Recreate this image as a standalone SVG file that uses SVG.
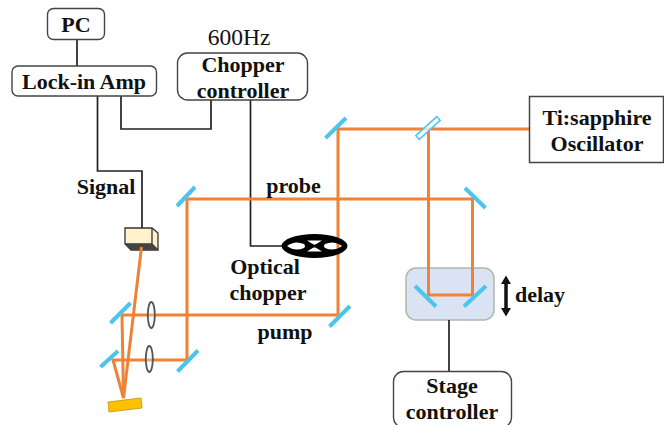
<svg xmlns="http://www.w3.org/2000/svg" width="664" height="425" viewBox="0 0 664 425">
<style>
text{font-family:"Liberation Serif",serif;font-weight:bold;font-size:22px;fill:#111;text-anchor:middle}
.box{fill:#fff;stroke:#444;stroke-width:1.4}
.w{fill:none;stroke:#222;stroke-width:1.7}
.b{fill:none;stroke:#ef8236;stroke-width:3}
.m{stroke:#4cc4ef;stroke-width:4;stroke-linecap:butt}
.l{fill:#eef1f5;fill-opacity:.35;stroke:#555;stroke-width:1.8}
</style>
<rect width="664" height="425" fill="#fff"/>
<g id="stage"><rect x="406" y="268" width="88" height="52" rx="10" fill="#d9e3f3" stroke="#adb9a8" stroke-width="1.5"/></g>
<g id="connectors">
<path class="w" d="M77 39V66M97.500 96V171H142V228M121 96V129H211V100M250.500 100V246H285M449 320V371"/>
<path class="b" d="M530 129H338V315H122L123.500 398L113 360H187V199H472.500V295H428.500V129"/>
<path d="M506 280V312" stroke="#111" stroke-width="3.500"/>
<path d="M506 275.500L501 284H511ZM506 316.500L501 308H511Z" fill="#111"/>
</g>
<g id="mirrors">
<path class="m" d="M325.500 138L346 118M177 206L195 187M329.500 326.500L350 306M177.500 371.500L198 350.500M110.500 323L130.500 303M100.500 367L118 351M465 188L485.500 208M415 286L436 306.500M464 306.500L486 286"/>
<path d="M415.800 135.600L419.200 139.400L440.200 120.400L436.800 116.600Z" fill="#fff" fill-opacity=".7" stroke="#4cc4ef" stroke-width="1.500"/>
</g>
<g id="lenses"><ellipse class="l" cx="151.300" cy="315" rx="3.500" ry="13"/><ellipse class="l" cx="149.300" cy="359" rx="3.500" ry="13"/></g>
<g id="sample"><path d="M108 402L141 398L142 408L109 412Z" fill="#ffc000" stroke="#c9a227"/></g>
<g id="detector"><path d="M125 228H152L158 233V250H131L125 244Z" fill="#fff2cc" stroke="#333" stroke-width="1.300"/><path d="M125 244H152V228M152 244L158 250" fill="none" stroke="#333" stroke-width="1.300"/><path d="M125 244L131 250H158L152 244Z" fill="#444"/><path d="M141.500 247L123.500 398" class="b"/></g>
<g id="optical-chopper"><path fill-rule="evenodd" fill="#000" d="M281.500 246A33 12 0 1 0 347.500 246A33 12 0 1 0 281.500 246ZM287 246Q295 240 304 244Q306 246 304 248Q295 252 287 246ZM342 246Q334 240 325 244Q323 246 325 248Q334 252 342 246ZM307 240.500H322L315.500 244.500H313.500ZM307 251.500H322L315.500 247.500H313.500Z"/></g>
<g id="pc"><rect class="box" x="47.500" y="8.500" width="57" height="31" rx="6"/><text x="76" y="32">PC</text></g>
<g id="lock-in"><rect class="box" x="12" y="66" width="144.500" height="30" rx="6"/><text x="84" y="88.500">Lock-in Amp</text></g>
<g id="chopper-controller"><rect class="box" x="177.500" y="53" width="130" height="47" rx="10"/><text x="243" y="72">Chopper</text><text x="243" y="97.500">controller</text></g>
<text x="239" y="45" style="font-weight:normal;font-size:23.500px">600Hz</text>
<g id="oscillator"><rect x="529.500" y="96.500" width="134" height="66" fill="#fff" stroke="#444" stroke-width="1.500"/><text x="597" y="125">Ti:sapphire</text><text x="597" y="151">Oscillator</text></g>
<g id="stage-controller"><rect class="box" x="393.500" y="371.500" width="118" height="56" rx="10"/><text x="452" y="393">Stage</text><text x="452" y="419">controller</text></g>
<g id="labels">
<text x="106" y="194">Signal</text>
<text x="293.500" y="192.500">probe</text>
<text x="265" y="274">Optical</text>
<text x="268" y="300">chopper</text>
<text x="285" y="339">pump</text>
<text x="540" y="302">delay</text>
</g>
</svg>
